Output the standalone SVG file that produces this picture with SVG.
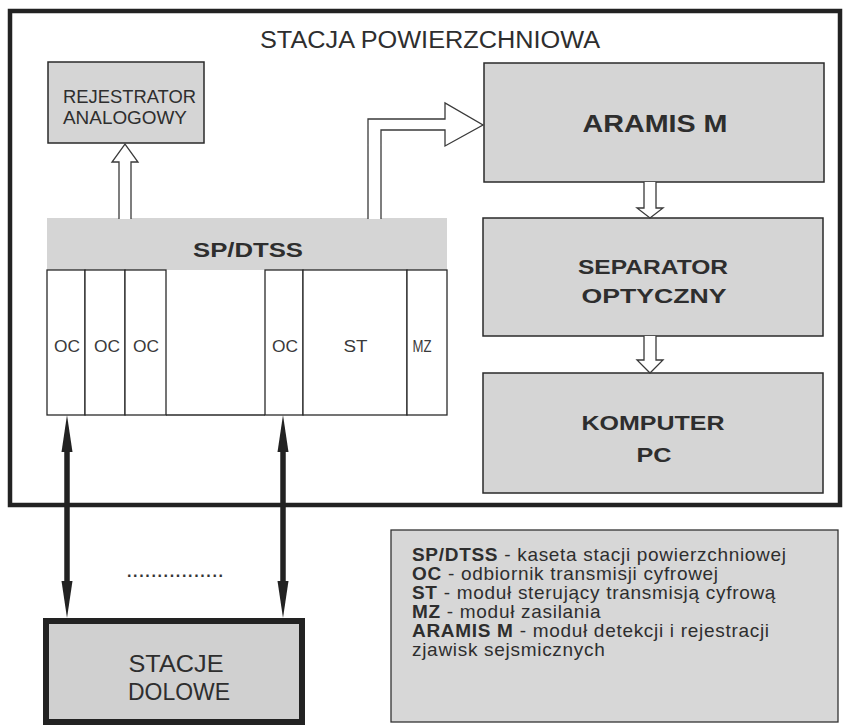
<svg xmlns="http://www.w3.org/2000/svg" width="845" height="726" viewBox="0 0 845 726">
<defs>
<style>
.box{fill:#d5d5d5;stroke:#2a2a2a;stroke-width:1.5}
.t{font-family:"Liberation Sans",Arial,sans-serif;fill:#2e2e2e;text-anchor:middle}
.b{font-weight:bold}
.mod{fill:#ffffff;stroke:#2a2a2a;stroke-width:1.3}
.ml{font-family:"Liberation Sans",Arial,sans-serif;fill:#3a3a3a;text-anchor:middle;font-size:16px}
.hollow{fill:#ffffff;stroke:#3a3a3a;stroke-width:1.3;stroke-linejoin:miter}
.thick{stroke:#222;stroke-width:5.5;fill:none}
.head{fill:#222}
.leg{font-family:"Liberation Sans",Arial,sans-serif;fill:#2e2e2e;font-size:19px;letter-spacing:0.7px}
</style>
</defs>
<rect width="845" height="726" fill="#ffffff"/>

<g id="frame">
<rect x="10" y="11" width="830" height="494" fill="none" stroke="#222" stroke-width="4.5"/>
<text class="t" x="430" y="48" font-size="23" textLength="340" lengthAdjust="spacingAndGlyphs">STACJA POWIERZCHNIOWA</text>
</g>

<g id="rejestrator">
<rect class="box" x="48" y="62" width="156" height="81"/>
<text class="t" x="129.5" y="103" font-size="18" textLength="133" lengthAdjust="spacingAndGlyphs">REJESTRATOR</text>
<text class="t" x="125" y="124" font-size="18" textLength="124" lengthAdjust="spacingAndGlyphs">ANALOGOWY</text>
</g>

<g id="aramis">
<rect class="box" x="484" y="63" width="340" height="119"/>
<text class="t b" x="655" y="132" font-size="23" textLength="145" lengthAdjust="spacingAndGlyphs">ARAMIS M</text>
</g>

<g id="separator">
<rect class="box" x="483" y="218" width="340" height="118"/>
<text class="t b" x="653" y="274" font-size="21" textLength="150" lengthAdjust="spacingAndGlyphs">SEPARATOR</text>
<text class="t b" x="654" y="303" font-size="21" textLength="145" lengthAdjust="spacingAndGlyphs">OPTYCZNY</text>
</g>

<g id="komputer">
<rect class="box" x="483" y="373" width="340" height="120"/>
<text class="t b" x="653" y="430" font-size="21" textLength="143" lengthAdjust="spacingAndGlyphs">KOMPUTER</text>
<text class="t b" x="654" y="462" font-size="21" textLength="35" lengthAdjust="spacingAndGlyphs">PC</text>
</g>

<g id="spdtss">
<rect x="47" y="218" width="400" height="52" fill="#d5d5d5"/>
<text class="t b" x="248" y="257" font-size="21" textLength="110" lengthAdjust="spacingAndGlyphs">SP/DTSS</text>
<rect x="47" y="270" width="400" height="145" fill="#ffffff"/>
<rect class="mod" x="47" y="270" width="38" height="145"/>
<rect class="mod" x="85" y="270" width="40" height="145"/>
<rect class="mod" x="125" y="270" width="41" height="145"/>
<rect class="mod" x="265" y="270" width="38" height="145"/>
<rect class="mod" x="303" y="270" width="104" height="145"/>
<rect class="mod" x="407" y="270" width="40" height="145"/>
<line x1="166" y1="415" x2="265" y2="415" stroke="#2a2a2a" stroke-width="1.3"/>
<text class="ml" x="67" y="352" textLength="26" lengthAdjust="spacingAndGlyphs">OC</text>
<text class="ml" x="107" y="352" textLength="26" lengthAdjust="spacingAndGlyphs">OC</text>
<text class="ml" x="146" y="352" textLength="26" lengthAdjust="spacingAndGlyphs">OC</text>
<text class="ml" x="285" y="352" textLength="26" lengthAdjust="spacingAndGlyphs">OC</text>
<text class="ml" x="355.5" y="352" textLength="24" lengthAdjust="spacingAndGlyphs">ST</text>
<text class="ml" x="422" y="352" textLength="19" lengthAdjust="spacingAndGlyphs">MZ</text>
</g>

<g id="stacje-dolowe">
<rect x="46" y="621" width="256" height="101" fill="#d0d0d0" stroke="#222" stroke-width="6"/>
<text class="t" x="176" y="672" font-size="24" textLength="95" lengthAdjust="spacingAndGlyphs">STACJE</text>
<text class="t" x="179" y="700" font-size="24" textLength="102" lengthAdjust="spacingAndGlyphs">DOLOWE</text>
</g>

<g id="legend">
<rect x="391" y="530" width="447" height="192" fill="#d7d7d7" stroke="#333" stroke-width="1.3"/>
<text class="leg" x="412" y="561"><tspan font-weight="bold">SP/DTSS</tspan> - kaseta stacji powierzchniowej</text>
<text class="leg" x="412" y="580"><tspan font-weight="bold">OC</tspan> - odbiornik transmisji cyfrowej</text>
<text class="leg" x="412" y="599"><tspan font-weight="bold">ST</tspan> - moduł sterujący transmisją cyfrową</text>
<text class="leg" x="412" y="618"><tspan font-weight="bold">MZ</tspan> - moduł zasilania</text>
<text class="leg" x="412" y="637"><tspan font-weight="bold">ARAMIS M</tspan> - moduł detekcji i rejestracji</text>
<text class="leg" x="412" y="656">zjawisk sejsmicznych</text>
</g>

<g id="connectors">
<path class="hollow" d="M119,219 L119,162 L112,162 L125,144 L138,162 L131,162 L131,219"/>
<path class="hollow" d="M368,219 L368,119 L445,119 L445,103 L483,125 L445,146 L445,130 L381,130 L381,219"/>
<path class="hollow" d="M644,182 L644,208 L637,208 L650,218 L663,208 L656,208 L656,182"/>
<path class="hollow" d="M644,336 L644,360 L637,360 L650,373 L663,360 L656,360 L656,336"/>
<line class="thick" x1="67" y1="440" x2="67" y2="595"/>
<line class="thick" x1="283" y1="440" x2="283" y2="595"/>
<path class="head" d="M67,415 L72.5,452 L61.5,452 Z"/>
<path class="head" d="M67,618 L72.5,581 L61.5,581 Z"/>
<path class="head" d="M283,415 L288.5,452 L277.5,452 Z"/>
<path class="head" d="M283,618 L288.5,581 L277.5,581 Z"/>
<text x="175" y="577" font-family="Liberation Sans, Arial, sans-serif" font-size="16" font-weight="bold" fill="#333" text-anchor="middle" textLength="96" lengthAdjust="spacing">................</text>
</g>
</svg>
